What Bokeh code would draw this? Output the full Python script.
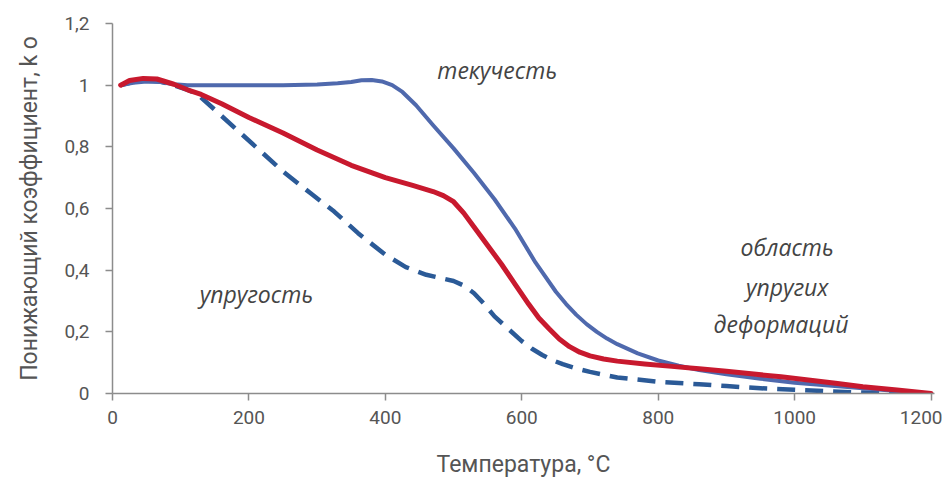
from bokeh.plotting import figure
from bokeh.models import FixedTicker, Range1d, Label
from bokeh.embed import file_html
from bokeh.resources import INLINE

# ---- data ----
x_yield = [12, 30, 50, 70, 90, 110, 150, 200, 250, 300, 330, 350, 365, 380, 395, 410, 425, 445, 470, 500, 530, 560,
           590, 620, 650, 665, 680, 695, 710, 725, 740, 770, 800, 830, 860, 900, 950, 1000, 1050, 1100, 1150, 1200]
y_yield = [1.0, 1.008, 1.012, 1.01, 1.003, 1.0, 1.0, 1.0, 1.0, 1.002, 1.006, 1.01, 1.016, 1.017, 1.012, 1.0, 0.978,
           0.935, 0.87, 0.795, 0.715, 0.63, 0.535, 0.425, 0.33, 0.29, 0.255, 0.225, 0.2, 0.178, 0.16, 0.13, 0.107,
           0.09, 0.076, 0.062, 0.048, 0.035, 0.026, 0.017, 0.008, 0.0]

x_red = [12, 25, 45, 65, 90, 110, 130, 160, 200, 250, 300, 350, 400, 440, 470, 485, 500, 515, 530, 550, 570, 590,
         610, 625, 640, 655, 670, 685, 700, 720, 740, 780, 820, 860, 900, 940, 980, 1020, 1060, 1100, 1150, 1200]
y_red = [1.0, 1.015, 1.022, 1.02, 1.003, 0.985, 0.97, 0.94, 0.895, 0.845, 0.79, 0.74, 0.70, 0.675, 0.655, 0.642,
         0.622, 0.585, 0.54, 0.48, 0.42, 0.355, 0.29, 0.245, 0.21, 0.177, 0.152, 0.134, 0.122, 0.112, 0.105, 0.096,
         0.088, 0.08, 0.072, 0.063, 0.054, 0.044, 0.033, 0.022, 0.011, 0.0]

x_elastic = [12, 30, 50, 70, 90, 110, 125, 150, 180, 210, 250, 290, 325, 360, 400, 430, 460, 480, 500, 515, 530, 545,
             560, 575, 600, 615, 630, 645, 660, 680, 700, 740, 800, 860, 900, 950, 1000, 1050, 1100, 1150]
y_elastic = [1.0, 1.01, 1.015, 1.012, 1.0, 0.985, 0.97, 0.92, 0.86, 0.80, 0.72, 0.65, 0.59, 0.52, 0.45, 0.41, 0.385,
             0.375, 0.365, 0.35, 0.325, 0.29, 0.25, 0.22, 0.17, 0.145, 0.125, 0.108, 0.095, 0.081, 0.07, 0.052,
             0.038, 0.03, 0.024, 0.017, 0.012, 0.007, 0.003, 0.0]

x_ticks = [0, 200, 400, 600, 800, 1000, 1200]
y_ticks = [0, 0.2, 0.4, 0.6, 0.8, 1.0, 1.2]
y_tick_labels = ["0", "0,2", "0,4", "0,6", "0,8", "1", "1,2"]

x_title = "Температура, °C"
y_title = "Понижающий коэффициент, k o"

notes = ["текучесть", "упругость", "область", "упругих", "деформаций"]
note_x = [564, 211, 989, 989, 980]
note_y = [1.048, 0.324, 0.474, 0.347, 0.227]

# ---- figure ----
p = figure(width=942, height=481, output_backend="svg", toolbar_location=None,
           x_range=Range1d(0, 1205), y_range=Range1d(0, 1.2),
           min_border_left=112, min_border_top=23, min_border_right=8, min_border_bottom=88)
p.outline_line_color = None
p.grid.visible = False
p.background_fill_color = "white"

axis_font = "Roboto"
for ax in (p.xaxis[0], p.yaxis[0]):
    ax.axis_line_color = "#8c8c8c"
    ax.axis_line_width = 1.5
    ax.major_tick_line_color = "#8c8c8c"
    ax.major_tick_line_width = 1.5
    ax.major_tick_in = 0
    ax.major_tick_out = 7
    ax.minor_tick_line_color = None
    ax.major_label_text_font = axis_font
    ax.major_label_text_font_size = "19px"
    ax.major_label_text_color = "#555555"
    ax.axis_label_text_font = axis_font
    ax.axis_label_text_font_size = "23px"
    ax.axis_label_text_font_style = "normal"
    ax.axis_label_text_color = "#555555"

p.xaxis.ticker = FixedTicker(ticks=x_ticks)
p.yaxis.ticker = FixedTicker(ticks=y_ticks)
p.yaxis.major_label_overrides = {t: s for t, s in zip(y_ticks, y_tick_labels)}
p.xaxis.axis_label = x_title
p.yaxis.axis_label = y_title
p.xaxis.major_label_standoff = 10
p.yaxis.major_label_standoff = 16
p.xaxis.axis_label_standoff = 24
p.yaxis.axis_label_standoff = 18

p.line(x_elastic, y_elastic, line_color="#2b5a97", line_width=4.5, line_dash="18 10", line_join="round")
p.line(x_yield, y_yield, line_color="#4f69ad", line_width=4, line_join="round")
p.line(x_red, y_red, line_color="#c8192e", line_width=5, line_join="round", line_cap="round")

for t, xx, yy in zip(notes, note_x, note_y):
    p.add_layout(Label(x=xx, y=yy, text=t, text_align="center", text_baseline="middle",
                       text_font="Open Sans", text_font_style="italic", text_font_size="23px",
                       text_color="#444444"))

open("out.html", "w").write(file_html(p, INLINE))
